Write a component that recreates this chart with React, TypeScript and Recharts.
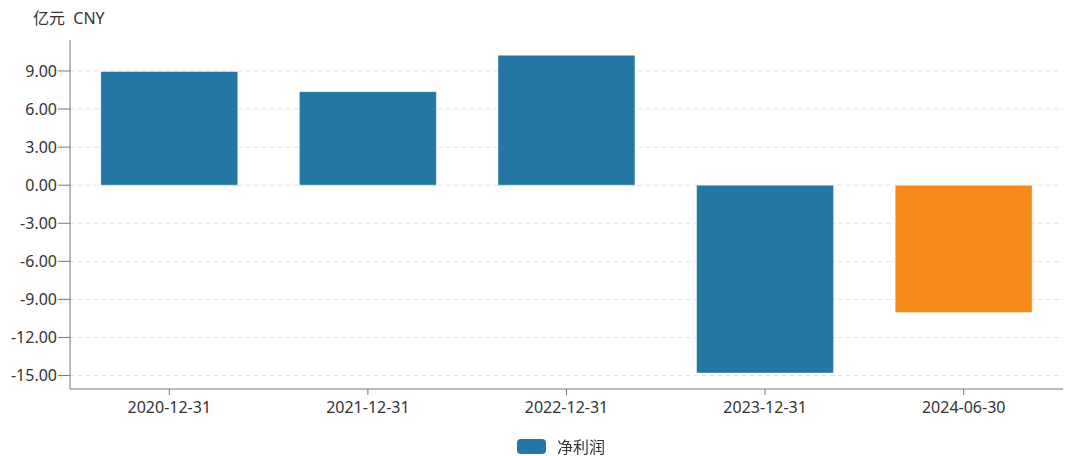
import { BarChart, Bar, XAxis, YAxis, CartesianGrid, Legend, Cell } from 'recharts'

const periods = ['2020-12-31', '2021-12-31', '2022-12-31', '2023-12-31', '2024-06-30']
const netProfit = [8.96, 7.37, 10.24, -14.8, -10.03]
const yTicks = [-15, -12, -9, -6, -3, 0, 3, 6, 9]

const BLUE = '#2477a3'
const ORANGE = '#f68a1c'
const FONT = "'Noto Sans', 'Noto Sans CJK SC', sans-serif"

const data = periods.map((p, i) => ({ period: p, value: netProfit[i] }))

export default function App() {
  return (
    <div style={{ position: 'fixed', left: 0, top: 0, width: 1080, height: 456, background: '#fff', fontFamily: FONT }}>
      <BarChart
        width={1080}
        height={456}
        data={data}
        margin={{ top: 40, right: 17, bottom: 13, left: 0 }}
        barCategoryGap="15.5%"
      >
        <CartesianGrid vertical={false} stroke="#e3e3e3" strokeDasharray="5 3" syncWithTicks />
        <XAxis
          dataKey="period"
          height={30}
          tickSize={6}
          tickMargin={7}
          stroke="#777"
          tick={{ fill: '#333', fontSize: 16, fontFamily: FONT }}
        />
        <YAxis
          width={70}
          domain={[-16.06, 11.44]}
          ticks={yTicks}
          tickFormatter={(v: number) => v.toFixed(2)}
          tickSize={12}
          tickMargin={1}
          stroke="#777"
          tick={{ fill: '#333', fontSize: 16, fontFamily: FONT }}
          label={{
            content: () => (
              <text x={33} y={24} fill="#333" fontSize={16} fontFamily={FONT} style={{ whiteSpace: 'pre' }}>
                {'亿元  CNY'}
              </text>
            ),
          }}
        />
        <Legend
          layout="vertical"
          align="center"
          verticalAlign="bottom"
          wrapperStyle={{ top: 434, left: 21, width: 1080 }}
          content={() => (
            <div style={{ display: 'flex', justifyContent: 'center', alignItems: 'center', gap: 11 }}>
              <span style={{ display: 'inline-block', width: 29, height: 15, borderRadius: 4, background: BLUE }} />
              <span style={{ fontSize: 16, color: '#333', fontFamily: FONT }}>净利润</span>
            </div>
          )}
        />
        <Bar dataKey="value" name="净利润" isAnimationActive={false} stroke="rgba(255,255,255,0.45)" strokeWidth={1}>
          {data.map((d, i) => (
            <Cell key={d.period} fill={i === data.length - 1 ? ORANGE : BLUE} />
          ))}
        </Bar>
      </BarChart>
    </div>
  )
}
